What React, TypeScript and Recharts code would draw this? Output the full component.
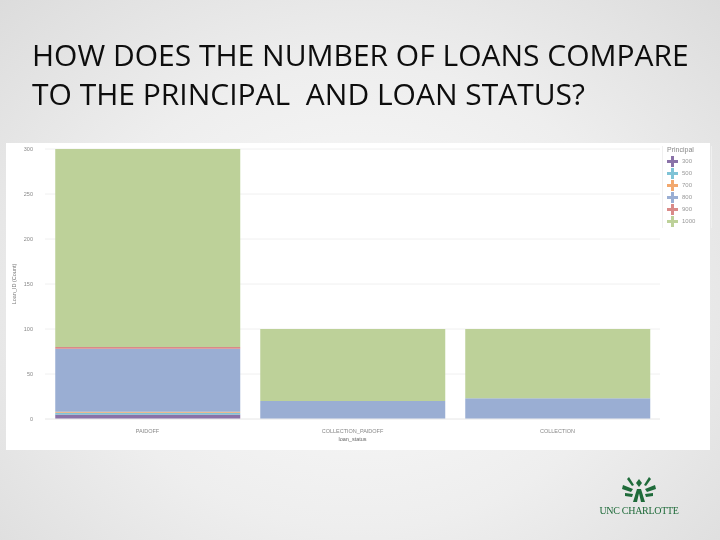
import React from "react"
import { BarChart, Bar, XAxis, YAxis, CartesianGrid, Label } from "recharts"

const statuses = ["PAIDOFF", "COLLECTION_PAIDOFF", "COLLECTION"]
const principals = ["300", "500", "700", "800", "900", "1000"]
const colors = ["#8a72a8", "#7fc3d6", "#f2a86e", "#9aaed3", "#d98a88", "#bdd199"]

const count300 = [5, 0, 0]
const count500 = [2, 0, 0]
const count700 = [1, 0, 0]
const count800 = [70, 20, 23]
const count900 = [2, 0, 0]
const count1000 = [220, 80, 77]

const yTicks = [0, 50, 100, 150, 200, 250, 300]

const seriesValues = [count300, count500, count700, count800, count900, count1000]

const data = statuses.map((s, i) => {
  const row: Record<string, string | number> = { status: s }
  principals.forEach((p, j) => {
    row[p] = seriesValues[j][i]
  })
  return row
})

const smallFont = "Liberation Sans, Arial, sans-serif"

function Cross({ color }: { color: string }) {
  return (
    <svg width={11} height={11} viewBox="0 0 11 11">
      <path d="M4 0h3v4h4v3h-4v4h-3v-4h-4v-3h4z" fill={color} />
    </svg>
  )
}

function PrincipalLegend() {
  return (
    <div
      style={{
        position: "absolute",
        left: 662,
        top: 146,
        width: 44,
        height: 82,
        paddingLeft: 4,
        borderLeft: "1px solid #f0f0f0",
        borderRight: "1px solid #f0f0f0",
        fontFamily: smallFont,
        fontSize: 6,
        color: "#999",
      }}
    >
      <div style={{ fontSize: 7, color: "#888", marginBottom: 2 }}>Principal</div>
      {principals.map((p, i) => (
        <div key={p} style={{ display: "flex", alignItems: "center", height: 12 }}>
          <Cross color={colors[i]} />
          <span style={{ marginLeft: 4 }}>{p}</span>
        </div>
      ))}
    </div>
  )
}

export default function App() {
  return (
    <div
      style={{
        position: "fixed",
        left: 0,
        top: 0,
        width: 720,
        height: 540,
        overflow: "hidden",
        background: "radial-gradient(ellipse at 50% 55%, #fbfbfb 0%, #eeeeee 55%, #dcdcdc 100%)",
        fontFamily: "'Open Sans', Lato, sans-serif",
      }}
    >
      <div
        style={{
          position: "absolute",
          left: 32,
          top: 35,
          fontSize: 30,
          lineHeight: "39px",
          color: "#0d0d0d",
          fontFamily: "'Open Sans', sans-serif",
          whiteSpace: "nowrap",
        }}
      >
        HOW DOES THE NUMBER OF LOANS COMPARE
        <br />
        TO THE PRINCIPAL&nbsp; AND LOAN STATUS?
      </div>

      <div style={{ position: "absolute", left: 6, top: 143, width: 704, height: 307, background: "#fff" }}>
        <BarChart
          width={704}
          height={307}
          data={data}
          margin={{ top: 6, right: 50, bottom: 1, left: 0 }}
          barCategoryGap="5%"
        >
          <CartesianGrid vertical={false} stroke="#f0f0f0" />
          <XAxis
            dataKey="status"
            height={30}
            tickLine={false}
            axisLine={{ stroke: "#eeeeee" }}
            tick={{ fontSize: 5.5, fill: "#888", fontFamily: smallFont }}
            tickMargin={4}
          >
            <Label value="loan_status" position="insideBottom" offset={8} style={{ fontSize: 5.5, fill: "#666", fontFamily: smallFont }} />
          </XAxis>
          <YAxis
            width={39}
            domain={[0, 300]}
            ticks={yTicks}
            tickLine={false}
            axisLine={false}
            tick={{ fontSize: 5.5, fill: "#888", fontFamily: smallFont }}
            tickMargin={6}
          >
            <Label value="Loan_ID (Count)" angle={-90} position="insideLeft" offset={8} style={{ fontSize: 5.5, fill: "#777", textAnchor: "middle", fontFamily: smallFont }} />
          </YAxis>
          {principals.map((p, i) => (
            <Bar key={p} dataKey={p} stackId="a" fill={colors[i]} isAnimationActive={false} />
          ))}
        </BarChart>
      </div>

      <PrincipalLegend />

      <div style={{ position: "absolute", left: 594, top: 477, width: 90, textAlign: "center" }}>
        <svg width={40} height={26} viewBox="0 0 40 26">
          <path d="M20 2 l3 4 l-3 4 l-3 -4z" fill="#1f6b3a" />
          <path d="M18 12 l-4 13 l4 0 l3 -13z" fill="#1f6b3a" />
          <path d="M22 12 l4 13 l-4 0 l-3 -13z" fill="#1f6b3a" />
          <path d="M4 8 l10 4 l-2 3 l-9 -3z" fill="#1f6b3a" />
          <path d="M36 8 l-10 4 l2 3 l9 -3z" fill="#1f6b3a" />
          <path d="M6 16 l8 1 l-1 3 l-7 -1z" fill="#1f6b3a" />
          <path d="M34 16 l-8 1 l1 3 l7 -1z" fill="#1f6b3a" />
          <path d="M10 0 l5 8 l-2 1 l-5 -7z" fill="#1f6b3a" />
          <path d="M30 0 l-5 8 l2 1 l5 -7z" fill="#1f6b3a" />
        </svg>
        <div style={{ fontFamily: "'Liberation Serif', 'DejaVu Serif', serif", fontSize: 10, color: "#1f6b3a", marginTop: -3, letterSpacing: -0.3 }}>
          UNC CHARLOTTE
        </div>
      </div>
    </div>
  )
}
